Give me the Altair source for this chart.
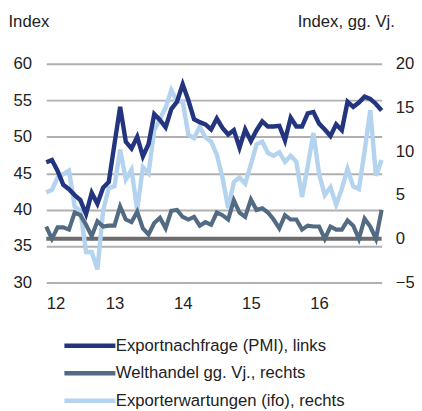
import altair as alt
import pandas as pd

months = list(range(60))  # Jan 2012 .. Dec 2016
year_labels = ["12", "13", "14", "15", "16"]

pmi = [46.5, 46.8, 45.3, 43.4, 42.8, 42.0, 41.3, 39.4, 42.3, 40.8, 43.0, 43.8,
       49.0, 54.1, 49.3, 48.4, 50.0, 47.3, 49.0, 53.1, 52.3, 51.3, 53.8, 54.8,
       57.2, 55.0, 52.4, 52.0, 51.7, 51.0, 52.5, 51.2, 50.3, 50.9, 48.5, 51.0,
       49.4, 50.9, 52.1, 51.4, 51.4, 51.5, 49.5, 52.6, 51.4, 51.4, 53.2, 53.4,
       51.8, 51.0, 50.1, 51.7, 50.9, 54.8, 54.1, 54.7, 55.5, 55.2, 54.5, 53.6]

welthandel = [1.4, 0.0, 1.3, 1.3, 1.05, 3.0, 2.7, 1.6, 0.3, 2.0, 1.4, 1.5,
              1.5, 3.7, 2.2, 1.9, 3.1, 1.2, 0.5, 1.8, 2.4, 1.2, 3.2, 3.3,
              2.5, 2.2, 2.5, 1.5, 1.9, 1.6, 3.0, 2.7, 2.2, 4.4, 3.0, 2.5,
              4.5, 3.3, 3.5, 3.0, 2.2, 1.2, 2.7, 2.2, 2.2, 1.05, 1.5, 1.4,
              1.4, 0.0, 1.4, 1.05, 1.05, 2.1, 1.5, 0.0, 2.3, 1.4, 0.0, 3.3]

ifo = [5.3, 5.6, 7.0, 7.4, 7.8, 3.7, 3.2, -1.5, -1.5, -3.5, 3.2, 5.8,
       6.0, 10.2, 6.8, 7.9, 3.3, 8.2, 7.5, 12.4, 13.7, 15.0, 17.0, 15.7,
       15.7, 11.9, 11.5, 12.8, 11.6, 11.1, 9.6, 7.0, 3.5, 6.5, 7.0, 6.3,
       8.5, 10.8, 11.1, 9.8, 9.5, 9.9, 8.8, 9.5, 8.8, 4.8, 8.3, 12.1,
       7.4, 5.0, 5.9, 3.9, 5.7, 8.0, 6.0, 5.7, 10.0, 14.7, 7.2, 9.0]

names = ["Exportnachfrage (PMI), links",
         "Welthandel gg. Vj., rechts",
         "Exporterwartungen (ifo), rechts"]
colors = ["#24357f", "#526a82", "#b4d3ef"]

FONT = "Liberation Sans, Arial, sans-serif"
TXT = "#222222"

df_pmi = pd.DataFrame({"m": months, "v": pmi, "s": names[0]})
df_wh = pd.DataFrame({"m": months, "v": welthandel, "s": names[1]})
df_ifo = pd.DataFrame({"m": months, "v": ifo, "s": names[2]})
df_zero = pd.DataFrame({"v": [0]})

xenc = alt.X("m:Q", scale=alt.Scale(domain=[0, 59], nice=False, zero=False),
             axis=alt.Axis(values=[0, 12, 24, 36, 48],
                           labelExpr="format(12 + datum.value / 12, 'd')",
                           title=None, grid=False, ticks=False, domain=False,
                           labelFontSize=17, labelFont=FONT, labelColor=TXT,
                           labelPadding=13))

color_scale = alt.Scale(domain=names, range=colors)
legend = alt.Legend(orient="none", legendX=36, legendY=279, title=None,
                    symbolType="M-5.2,0H5.2", symbolSize=100,
                    symbolStrokeWidth=4.5, labelFontSize=17, labelFont=FONT,
                    labelColor=TXT, labelOffset=18, rowPadding=9,
                    direction="vertical", labelLimit=400)
cenc = alt.Color("s:N", scale=color_scale, legend=legend)

left_scale = alt.Scale(domain=[30, 60], nice=False, zero=False)
right_scale = alt.Scale(domain=[-5, 20], nice=False, zero=False)

left_axis = alt.Axis(orient="left", values=[30, 35, 40, 45, 50, 55, 60],
                     grid=True, gridColor="#b0b0b0", gridWidth=2,
                     ticks=False, domain=False, labelFontSize=17,
                     labelFont=FONT, labelColor=TXT, labelPadding=15,
                     title="Index", titleAngle=0, titleAlign="left",
                     titleBaseline="alphabetic", titleX=-39, titleY=-38,
                     titleFontSize=17, titleFont=FONT, titleFontWeight="normal",
                     titleColor=TXT)
right_axis = alt.Axis(orient="right", values=[-5, 0, 5, 10, 15, 20],
                      grid=False, ticks=False, domain=False, labelFontSize=17,
                      labelFont=FONT, labelColor=TXT, labelPadding=14,
                      title="Index, gg. Vj.", titleAngle=0, titleAlign="right",
                      titleBaseline="alphabetic", titleX=13, titleY=-38,
                      titleFontSize=17, titleFont=FONT, titleFontWeight="normal",
                      titleColor=TXT)

zero_rule = alt.Chart(df_zero).mark_rule(color="#6d6b6b", strokeWidth=4).encode(
    y=alt.Y("v:Q", scale=right_scale, axis=right_axis)
)
ifo_line = alt.Chart(df_ifo).mark_line(strokeWidth=4.5, strokeJoin="miter").encode(
    x=xenc, y=alt.Y("v:Q", scale=right_scale, axis=right_axis), color=cenc
)
wh_line = alt.Chart(df_wh).mark_line(strokeWidth=4.2, strokeJoin="miter").encode(
    x=xenc, y=alt.Y("v:Q", scale=right_scale, axis=right_axis), color=cenc
)
right_layer = alt.layer(zero_rule, ifo_line, wh_line)

pmi_line = alt.Chart(df_pmi).mark_line(strokeWidth=4.5, strokeJoin="miter").encode(
    x=xenc, y=alt.Y("v:Q", scale=left_scale, axis=left_axis), color=cenc
)

chart = alt.layer(right_layer, pmi_line).resolve_scale(y="independent").properties(
    width=342, height=223,
    autosize=alt.AutoSizeParams(type="none"),
    padding={"left": 39, "top": 53, "right": 33, "bottom": 125},
    background="white",
).configure_view(stroke=None)

chart.save("out.html", embed_options={"renderer": "svg", "actions": False})
